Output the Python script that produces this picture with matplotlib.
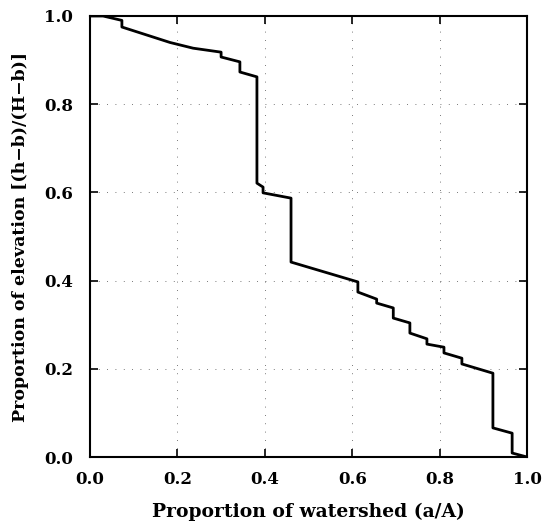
import matplotlib
matplotlib.use("Agg")
import matplotlib.pyplot as plt

# hypsometric curve
area = [0.0, 0.03, 0.073, 0.073, 0.183, 0.236, 0.30, 0.30, 0.343, 0.343, 0.382, 0.382,
        0.396, 0.396, 0.46, 0.46, 0.613, 0.613, 0.656, 0.656, 0.694, 0.694, 0.732, 0.732,
        0.771, 0.771, 0.81, 0.81, 0.851, 0.851, 0.922, 0.922, 0.966, 0.966, 1.0]
elev = [1.0, 1.0, 0.99, 0.975, 0.94, 0.927, 0.918, 0.907, 0.896, 0.873, 0.862, 0.621,
        0.612, 0.599, 0.587, 0.442, 0.397, 0.374, 0.358, 0.349, 0.338, 0.315, 0.304, 0.281,
        0.268, 0.256, 0.249, 0.236, 0.224, 0.211, 0.19, 0.066, 0.054, 0.009, 0.0]

ticks = [0.0, 0.2, 0.4, 0.6, 0.8, 1.0]
tick_labels = ["0.0", "0.2", "0.4", "0.6", "0.8", "1.0"]

plt.rcParams['font.family'] = ['DejaVu Serif']
plt.rcParams['font.weight'] = 'bold'

fig = plt.figure(figsize=(5.5, 5.27), dpi=100)
ax = fig.add_axes([90/550, 1 - 457/527, 437/550, 441/527])

ax.plot(area, elev, color='black', linewidth=2.0, solid_joinstyle='round')

ax.set_xlim(0, 1)
ax.set_ylim(0, 1)
ax.set_xticks(ticks)
ax.set_xticklabels(tick_labels)
ax.set_yticks(ticks)
ax.set_yticklabels(tick_labels)
ax.tick_params(direction='in', length=6, width=1.2, top=True, right=True,
               labelsize=12)
ax.tick_params(axis='x', pad=10)
ax.tick_params(axis='y', pad=12)
for s in ax.spines.values():
    s.set_linewidth(1.5)

ax.grid(True, color='black', linestyle=(0, (1, 9)), linewidth=0.6, alpha=0.7)

ax.set_xlabel("Proportion of watershed (a/A)", fontsize=13.5, fontweight='bold', labelpad=11)
ax.set_ylabel("Proportion of elevation [(h\u2212b)/(H\u2212b)]", fontsize=12.5,
              fontweight='bold', labelpad=11)

fig.savefig("out.png", dpi=100)
